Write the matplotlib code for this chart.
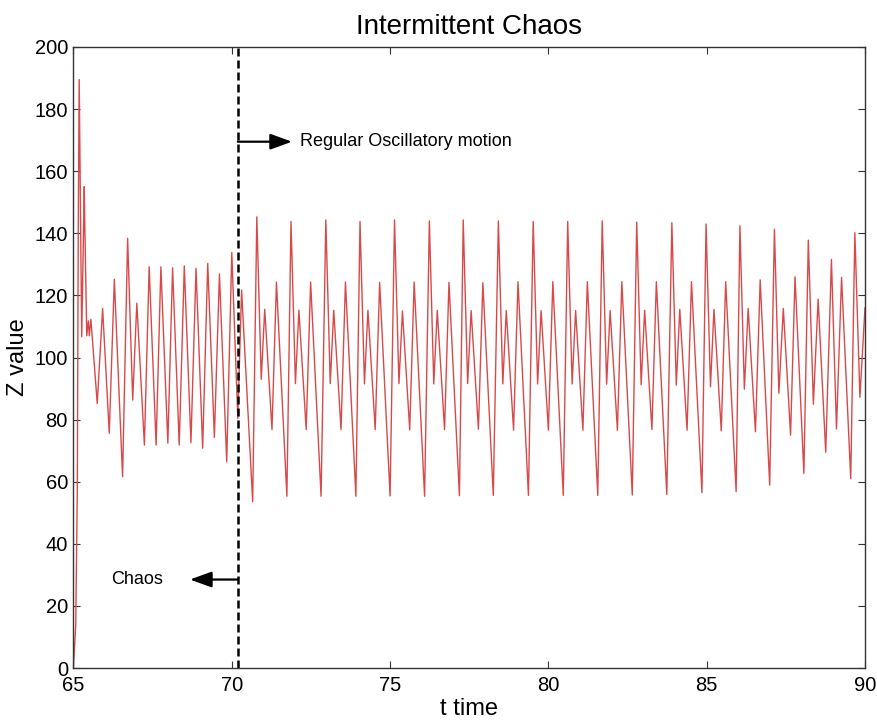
import matplotlib
matplotlib.use("Agg")
import matplotlib.pyplot as plt

plt.rcParams['font.family'] = ['Liberation Sans', 'DejaVu Sans']

# ---- data: vertices ----
chaos_t = [65.00, 65.07, 65.12, 65.15, 65.18, 65.26, 65.34, 65.36, 65.42, 65.47,
           65.50, 65.55, 65.75, 65.92, 66.13, 66.29, 66.55, 66.71, 66.87, 67.00,
           67.24, 67.39, 67.61, 67.76, 67.98, 68.13, 68.34, 68.50, 68.71, 68.87,
           69.08, 69.24, 69.45, 69.61, 69.84, 70.00, 70.19, 70.31, 70.66]
chaos_z = [0.5, 13.6, 57.0, 140.0, 189.5, 106.7, 155.0, 141.0, 107.0, 111.8,
           107.0, 112.3, 85.2, 115.8, 75.6, 125.2, 61.6, 138.4, 86.3, 117.5,
           71.8, 129.2, 71.8, 129.2, 72.4, 128.9, 71.8, 129.5, 72.6, 128.7,
           70.8, 130.3, 74.3, 126.9, 66.4, 133.8, 80.4, 121.7, 53.6]

regular_t = [
    70.79, 70.93, 71.04, 71.27, 71.41, 71.74,
    71.87, 72.01, 72.12, 72.35, 72.49, 72.82,
    72.97, 73.11, 73.22, 73.45, 73.59, 73.92,
    74.05, 74.19, 74.30, 74.53, 74.67, 75.00,
    75.14, 75.28, 75.39, 75.62, 75.76, 76.09,
    76.24, 76.38, 76.49, 76.72, 76.86, 77.19,
    77.31, 77.45, 77.56, 77.79, 77.93, 78.26,
    78.42, 78.56, 78.67, 78.90, 79.04, 79.37,
    79.52, 79.66, 79.77, 80.00, 80.14, 80.47,
    80.61, 80.75, 80.86, 81.09, 81.23, 81.56,
    81.70, 81.84, 81.95, 82.18, 82.32, 82.65,
    82.79, 82.93, 83.04, 83.27, 83.41, 83.74,
    83.90, 84.04, 84.15, 84.38, 84.52, 84.85,
    84.98, 85.12, 85.23, 85.46, 85.60, 85.93,
    86.05, 86.19, 86.31, 86.54, 86.69, 86.99,
    87.14, 87.28, 87.42, 87.65, 87.79, 88.07,
    88.21, 88.37, 88.52, 88.76, 88.94, 89.10, 89.26, 89.55,
    89.68, 89.84, 90.00]
regular_z = [
    145.3, 93.0, 115.5, 76.8, 124.3, 55.3,
    143.8, 91.6, 115.2, 76.8, 124.3, 55.3,
    144.3, 91.6, 115.2, 76.8, 124.3, 55.3,
    143.8, 91.5, 115.2, 76.8, 124.2, 55.4,
    144.3, 91.6, 115.0, 76.7, 124.3, 55.3,
    144.0, 91.5, 115.2, 76.8, 124.2, 55.5,
    144.3, 91.6, 115.1, 76.9, 124.1, 55.6,
    144.0, 91.5, 115.1, 76.6, 124.4, 55.6,
    143.8, 91.5, 115.1, 76.6, 124.4, 55.6,
    143.8, 91.5, 115.1, 76.6, 124.4, 55.6,
    144.0, 91.4, 115.1, 76.6, 124.4, 55.7,
    143.6, 91.2, 115.2, 76.8, 124.4, 55.9,
    143.4, 91.1, 115.5, 76.6, 124.4, 56.5,
    143.0, 90.6, 115.5, 76.4, 124.4, 56.8,
    142.4, 89.8, 115.8, 76.1, 125.0, 58.9,
    141.3, 88.5, 115.8, 75.0, 126.0, 62.7,
    137.8, 85.0, 118.8, 69.5, 131.6, 77.0, 125.8, 61.0,
    140.2, 87.2, 116.0]

x_ticks = [65, 70, 75, 80, 85, 90]
y_ticks = [0, 20, 40, 60, 80, 100, 120, 140, 160, 180, 200]
t_switch = 70.19
regular_label = "Regular Oscillatory motion"
chaos_label = "Chaos"

fig = plt.figure(figsize=(8.77, 7.24), dpi=100)
ax = fig.add_axes([0.0838, 0.0773, 0.9025, 0.8578])

ax.plot(chaos_t + regular_t, chaos_z + regular_z, color='#d84a4a', lw=1.0)

ax.axvline(t_switch, color='black', lw=1.8, linestyle=(0, (3.2, 1.6)))

ap = dict(arrowstyle='-|>,head_length=0.55,head_width=0.2', color='black',
          lw=1.6, shrinkA=0, shrinkB=0, mutation_scale=24)
ax.annotate('', xy=(71.90, 169.5), xytext=(t_switch, 169.5), arrowprops=ap)
ax.annotate('', xy=(68.68, 28.5), xytext=(t_switch, 28.5), arrowprops=ap)
ax.text(72.15, 169.5, regular_label, fontsize=13, va='center', ha='left')
ax.text(66.18, 28.5, chaos_label, fontsize=13, va='center', ha='left')

ax.set_xlim(65, 90)
ax.set_ylim(0, 200)
ax.set_xticks(x_ticks)
ax.set_yticks(y_ticks)
ax.tick_params(direction='in', length=5, top=True, right=True, labelsize=14.5,
               color='#333333')
ax.tick_params(axis='x', pad=6)
ax.tick_params(axis='y', pad=4)
for s in ax.spines.values():
    s.set_color('#333333')
    s.set_linewidth(1.0)

ax.set_title('Intermittent Chaos', fontsize=20, pad=9)
ax.set_xlabel('t time', fontsize=17, labelpad=2)
ax.set_ylabel('Z value', fontsize=17, labelpad=4)

fig.savefig('out.png', dpi=100)
